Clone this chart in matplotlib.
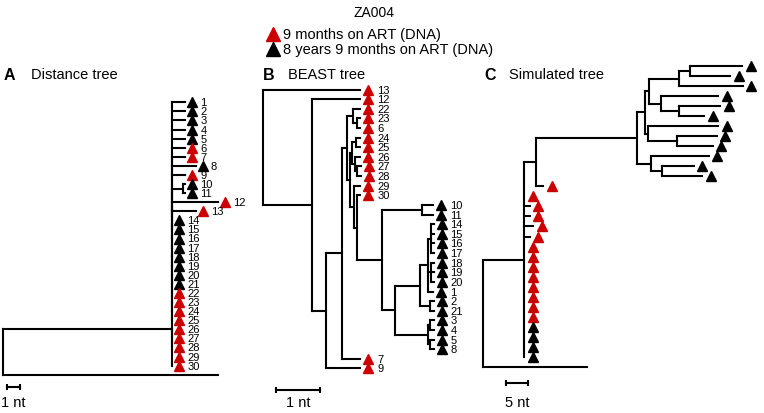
import matplotlib.pyplot as plt
from matplotlib.collections import LineCollection
from matplotlib.lines import Line2D
from matplotlib.transforms import offset_copy

plt.rcParams['font.family'] = ['Liberation Sans', 'DejaVu Sans']

W, H = 764, 414
RED = '#cc0000'

# --- data: the three trees as newick strings (branch lengths in nt) ---
# A: distance tree, binary with zero-length internal branches
tree_a = ("(((((((((((((((1:1,2:1,3:1,4:1,5:1,6:1,7:1,8:1.8,9:1,"
          "(10:0.15,11:0.15):0.85,12:3.5,13:1.8)"
          ":0,14:0):0,15:0):0,16:0):0,17:0):0,18:0):0,19:0):0,20:0)"
          ":0,21:0):0,22:0):0,23:0):0,24:0):0,25:0)"
          ":0,(26:0,27:0,28:0,29:0,30:0):0):13,ref:16.5);")
red_a = ['6', '7', '9', '12', '13', '22', '23', '24', '25', '26', '27',
         '28', '29', '30']

# B: BEAST tree
tree_b = ("(13:2.2,(12:1.09,((((22:0.16,(23:0.07,6:0.07):0.09):0.14,"
          "(((24:0.09,25:0.09):0.09,(26:0.11,(27:0.07,28:0.07):0.05):0.07):0.05,"
          "(29:0.14,(30:0.07,((10:0.25,11:0.25):0.91,"
          "((((14:0.05,15:0.05,16:0.05,17:0.05):0.07,(18:0.05,19:0.05,20:0.05):0.07,1:0.11):0.18,"
          "(2:0.07,21:0.07):0.23):0.57,"
          "((3:0.07,4:0.07):0.05,(5:0.07,8:0.07):0.05):0.75):0.3):0.57):0.07):0.09):0.07):0.11,"
          "7:0.41):0.36,9:0.77):0.32):1.11);")
red_b = red_a

# C: simulated tree (unlabelled tips)
tree_c = ("((((((((s1:11.8,s2:9.1):2.5,s3:14.5):6.8,(s4:13.0,(s5:9.3,s6:5.7):4.1):2.7):0.9,"
          "(s7:15.9,(s8:8.9,s9:8.0):6.6):0.7):1.8,(s10:13.0,(s11:7.3,s12:9.3):2.3):3.2):23.0,"
          "s13:1.6):2.7,s14:0,s15:1.3,s16:1.3,s17:2.0,s18:1.3,s19:0,s20:0,s21:0,s22:0,"
          "s23:0,s24:0,s25:0,s26:0,s27:0,s28:0,s29:0,s30:0):9.3,ref:23.6);")
red_c = ['s%d' % i for i in range(13, 27)]

legend_labels = ['9 months on ART (DNA)', '8 years 9 months on ART (DNA)']


def parse_newick(s):
    s = s.strip().rstrip(';')
    pos = 0

    def node():
        nonlocal pos
        kids = []
        if s[pos] == '(':
            pos += 1
            while True:
                kids.append(node())
                if s[pos] == ',':
                    pos += 1
                else:
                    pos += 1  # ')'
                    break
        start = pos
        while pos < len(s) and s[pos] not in ':,()':
            pos += 1
        name = s[start:pos]
        length = 0.0
        if pos < len(s) and s[pos] == ':':
            pos += 1
            start = pos
            while pos < len(s) and s[pos] not in ',()':
                pos += 1
            length = float(s[start:pos])
        return {'name': name, 'len': length, 'kids': kids}

    return node()


def layout(nd, x0=0.0, count=None):
    if count is None:
        count = [0]
    nd['x'] = x0 + nd['len']
    if not nd['kids']:
        nd['y'] = count[0]
        count[0] += 1
    else:
        for k in nd['kids']:
            layout(k, nd['x'], count)
        nd['y'] = (nd['kids'][0]['y'] + nd['kids'][-1]['y']) / 2.0


def panel_axes(fig, box, root_px, px_per_nt, y0_px, dy_px):
    l, t, r, b = box
    ax = fig.add_axes([l / W, 1 - b / H, (r - l) / W, (b - t) / H])
    ax.set_xlim((l - root_px) / px_per_nt, (r - root_px) / px_per_nt)
    ax.set_ylim((b - y0_px) / dy_px, (t - y0_px) / dy_px)
    ax.axis('off')
    return ax


def draw_tree(ax, newick, red, tri_px, lab_px, labels=True):
    root = parse_newick(newick)
    layout(root)
    segs, tips = [], []

    def walk(nd):
        if nd['kids']:
            ys = [k['y'] for k in nd['kids']]
            segs.append([(nd['x'], min(ys)), (nd['x'], max(ys))])
            for k in nd['kids']:
                if k['x'] > nd['x']:
                    segs.append([(nd['x'], k['y']), (k['x'], k['y'])])
                walk(k)
        else:
            tips.append(nd)

    walk(root)
    ax.add_collection(LineCollection(segs, colors='k', linewidths=1.5,
                                     capstyle='projecting', clip_on=False))
    tri_tr = offset_copy(ax.transData, fig=ax.figure, x=tri_px * 0.72, units='points')
    lab_tr = offset_copy(ax.transData, fig=ax.figure, x=(tri_px + lab_px) * 0.72, units='points')
    for tp in tips:
        if tp['name'] == 'ref':
            continue
        col = RED if tp['name'] in red else 'k'
        ax.plot(tp['x'], tp['y'], marker='^', ms=7, color=col, mec=col,
                transform=tri_tr, clip_on=False)
        if labels:
            ax.text(tp['x'], tp['y'], tp['name'], transform=lab_tr, fontsize=8,
                    ha='left', va='center', clip_on=False)


def scale_bar(ax, x0, length, y, y_text, text):
    ax.plot([x0, x0 + length], [y, y], color='k', lw=1.5, marker='|', ms=5,
            mew=1.5, clip_on=False)
    ax.text(x0 + length / 2.0, y_text, text, ha='center', va='center', fontsize=10.5)


fig = plt.figure(figsize=(W / 100, H / 100), dpi=100)

ax_a = panel_axes(fig, (0, 85, 250, 414), 3.3, 13.0, 103.3, 9.08)
draw_tree(ax_a, tree_a, red_a, 7, 8)
scale_bar(ax_a, 0.28, 1, 31.3, 33.0, '1 nt')

ax_b = panel_axes(fig, (250, 85, 480, 414), 263.3, 44.0, 90.5, 9.62)
draw_tree(ax_b, tree_b, red_b, 8, 9)
scale_bar(ax_b, 0.29, 1, 31.2, 32.5, '1 nt')

ax_c = panel_axes(fig, (480, 55, 764, 414), 483.3, 4.4, 67.0, 10.03)
draw_tree(ax_c, tree_c, red_c, 8.5, 0, labels=False)
scale_bar(ax_c, 5.2, 5, 31.6, 33.5, '5 nt')

# panel headings
for letter, title, xl, xt in [('A', 'Distance tree', 4, 31),
                              ('B', 'BEAST tree', 263, 288),
                              ('C', 'Simulated tree', 484, 509)]:
    fig.text(xl / W, 1 - 75 / H, letter, fontsize=11.5, fontweight='bold',
             ha='left', va='center')
    fig.text(xt / W, 1 - 75 / H, title, fontsize=10.5, ha='left', va='center')

# title and legend
fig.text(374 / W, 1 - 13 / H, 'ZA004', fontsize=10, ha='center', va='center')
for lab, col, yy in zip(legend_labels, [RED, 'k'], [35, 50]):
    fig.add_artist(Line2D([273 / W], [1 - yy / H], marker='^', ms=10.5, color=col,
                          mec=col, linestyle='none', transform=fig.transFigure))
    fig.text(283 / W, 1 - yy / H, lab, fontsize=10.5, ha='left', va='center')

fig.savefig('out.png', dpi=100)
